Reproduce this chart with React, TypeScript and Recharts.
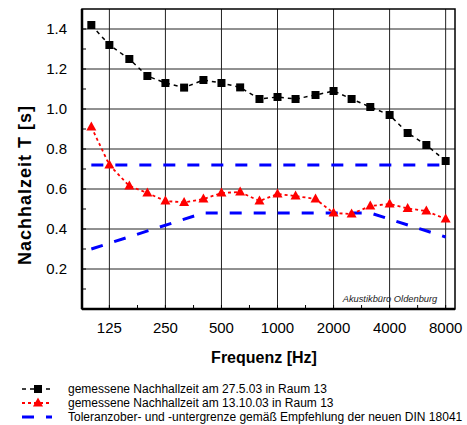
import React from 'react';
import { LineChart, Line, XAxis, YAxis, CartesianGrid, ReferenceArea } from 'recharts';

// third-octave bands
const FREQS = [100, 125, 160, 200, 250, 315, 400, 500, 630, 800, 1000, 1250, 1600, 2000, 2500, 3150, 4000, 5000, 6300, 8000];
const T_MAY = [1.42, 1.32, 1.25, 1.165, 1.13, 1.107, 1.145, 1.13, 1.108, 1.05, 1.06, 1.05, 1.07, 1.09, 1.05, 1.01, 0.97, 0.88, 0.82, 0.74];
const T_OCT = [0.91, 0.72, 0.615, 0.58, 0.54, 0.533, 0.55, 0.58, 0.585, 0.54, 0.575, 0.565, 0.55, 0.48, 0.475, 0.515, 0.525, 0.503, 0.49, 0.45];

// DIN 18041 tolerance band
const TOL_UPPER_F = [100, 8000];
const TOL_UPPER_T = [0.72, 0.72];
const TOL_LOWER_F = [100, 400, 3150, 8000];
const TOL_LOWER_T = [0.3, 0.48, 0.48, 0.36];

const X_MAJOR = [125, 250, 500, 1000, 2000, 4000, 8000];
const X_MINOR = [177, 354, 707, 1414, 2828, 5657];
const Y_TICKS = [0.1, 0.2, 0.3, 0.4, 0.5, 0.6, 0.7, 0.8, 0.9, 1.0, 1.1, 1.2, 1.3, 1.4];
const Y_LABELED = [0.2, 0.4, 0.6, 0.8, 1.0, 1.2, 1.4];

const LEGEND_NAMES = [
  'gemessene Nachhallzeit am 27.5.03 in Raum 13',
  'gemessene Nachhallzeit am 13.10.03 in Raum 13',
  'Toleranzober- und -untergrenze gemäß Empfehlung der neuen DIN 18041',
];

const FONT = '"Liberation Sans", Arial, Helvetica, sans-serif';
const X_DOMAIN = [89.1, 8980];
const Y_DOMAIN = [0, 1.5];

const measured = FREQS.map((f, i) => ({ f, may: T_MAY[i], oct: T_OCT[i] }));
const upper = TOL_UPPER_F.map((f, i) => ({ f, t: TOL_UPPER_T[i] }));
const lower = TOL_LOWER_F.map((f, i) => ({ f, t: TOL_LOWER_T[i] }));
const xTicks = [...X_MAJOR, ...X_MINOR].sort((a, b) => a - b);

const Square = (p: any) => {
  if (p.cx == null || p.cy == null) return null;
  return <rect key={`sq-${p.index}`} x={p.cx - 4} y={p.cy - 4} width={8} height={8} fill="#000" />;
};

const Triangle = (p: any) => {
  if (p.cx == null || p.cy == null) return null;
  const { cx, cy } = p;
  return (
    <path
      key={`tr-${p.index}`}
      d={`M${cx},${cy - 5.5} L${cx + 5},${cy + 3.5} L${cx - 5},${cy + 3.5} Z`}
      fill="#ff0000"
    />
  );
};

const XTick = (p: any) => {
  const v = p.payload.value;
  if (!X_MAJOR.includes(v)) return null;
  return (
    <text x={p.x} y={p.y} dy="0.71em" textAnchor="middle" fontSize={15} fontFamily={FONT} fill="#000">
      {v}
    </text>
  );
};

const YTick = (p: any) => {
  const v = p.payload.value;
  if (!Y_LABELED.some((l) => Math.abs(l - v) < 1e-6)) return null;
  return (
    <text x={p.x} y={p.y} dy="0.355em" textAnchor="end" fontSize={15} fontFamily={FONT} fill="#000">
      {v.toFixed(1)}
    </text>
  );
};

export default function App() {
  return (
    <div style={{ position: 'absolute', left: 0, top: 0, width: 467, height: 425, background: '#fff' }}>
      <LineChart
        width={467}
        height={425}
        data={measured}
        margin={{ top: 9, right: 12, bottom: 76, left: 0 }}
      >
        <CartesianGrid
          horizontalValues={Y_LABELED}
          verticalValues={X_MAJOR}
          stroke="#222"
          strokeWidth={1}
        />
        <XAxis
          dataKey="f"
          type="number"
          scale="log"
          domain={X_DOMAIN}
          ticks={xTicks}
          allowDataOverflow
          height={40}
          tickSize={-4}
          tickMargin={17}
          tickLine={{ stroke: '#000' }}
          axisLine={{ stroke: '#000', strokeWidth: 2.5 }}
          tick={<XTick />}
          interval={0}
          label={{
            content: () => (
              <text x={264} y={363} textAnchor="middle" fontSize={16} fontWeight="bold" fontFamily={FONT} fill="#000">
                Frequenz [Hz]
              </text>
            ),
          }}
        />
        <YAxis
          type="number"
          domain={Y_DOMAIN}
          ticks={Y_TICKS}
          allowDataOverflow
          width={82}
          tickSize={-4}
          tickMargin={19}
          tickLine={{ stroke: '#000' }}
          axisLine={{ stroke: '#000', strokeWidth: 2.5 }}
          tick={<YTick />}
          interval={0}
          label={{
            content: () => (
              <text
                x={25}
                y={185}
                transform="rotate(-90 25 185)"
                textAnchor="middle"
                dominantBaseline="central"
                fontSize={18}
                letterSpacing={1}
                fontWeight="bold"
                fontFamily={FONT}
                fill="#000"
              >
                Nachhalzeit T [s]
              </text>
            ),
          }}
        />
        <ReferenceArea
          x1={X_DOMAIN[0]}
          x2={X_DOMAIN[1]}
          y1={Y_DOMAIN[0]}
          y2={Y_DOMAIN[1]}
          fill="none"
          stroke="#000"
          strokeWidth={1.5}
          ifOverflow="visible"
        />
        <Line
          data={upper}
          dataKey="t"
          stroke="#0000ff"
          strokeWidth={3}
          strokeDasharray="12 12"
          dot={false}
          activeDot={false}
          isAnimationActive={false}
        />
        <Line
          data={lower}
          dataKey="t"
          stroke="#0000ff"
          strokeWidth={3}
          strokeDasharray="12 12"
          dot={false}
          activeDot={false}
          isAnimationActive={false}
        />
        <Line
          dataKey="oct"
          stroke="#ff0000"
          strokeWidth={1.8}
          strokeDasharray="3 3"
          dot={<Triangle />}
          activeDot={false}
          isAnimationActive={false}
        />
        <Line
          dataKey="may"
          stroke="#000"
          strokeWidth={1.5}
          strokeDasharray="4 4"
          dot={<Square />}
          activeDot={false}
          isAnimationActive={false}
        />
      </LineChart>
      <svg
        width={467}
        height={425}
        style={{ position: 'absolute', left: 0, top: 0, pointerEvents: 'none' }}
      >
        <text x={390} y={302} textAnchor="middle" fontSize={9.3} fontStyle="italic" fontFamily={FONT} fill="#222">
          Akustikbüro Oldenburg
        </text>
        {/* legend */}
        <g>
          <line x1={22} x2={52} y1={389} y2={389} stroke="#000" strokeWidth={1.5} strokeDasharray="4 4" />
          <rect x={34} y={385} width={8} height={8} fill="#000" />
          <text x={68} y={389} dy="0.355em" fontSize={12} fontFamily={FONT} fill="#000">{LEGEND_NAMES[0]}</text>
          <line x1={22} x2={52} y1={403} y2={403} stroke="#ff0000" strokeWidth={1.8} strokeDasharray="3 3" />
          <path d="M38,397.5 L43,406.5 L33,406.5 Z" fill="#ff0000" />
          <text x={68} y={403} dy="0.355em" fontSize={12} fontFamily={FONT} fill="#000">{LEGEND_NAMES[1]}</text>
          <line x1={22} x2={52} y1={417} y2={417} stroke="#0000ff" strokeWidth={3} strokeDasharray="12 12" />
          <text x={68} y={417} dy="0.355em" fontSize={12} fontFamily={FONT} fill="#000">{LEGEND_NAMES[2]}</text>
        </g>
      </svg>
    </div>
  );
}
